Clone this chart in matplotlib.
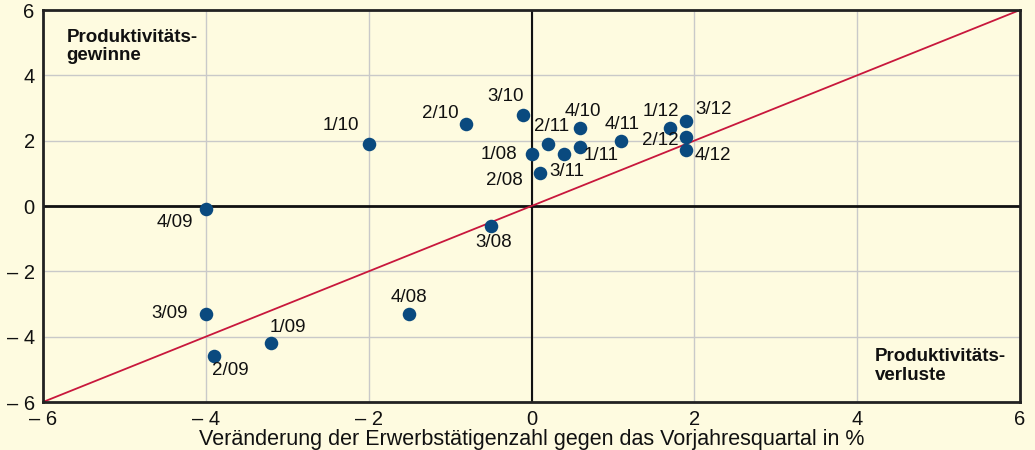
import matplotlib
matplotlib.use("Agg")
import matplotlib.pyplot as plt

# quarters (label), employment change x, productivity change y
labels = ["1/08", "2/08", "3/08", "4/08",
          "1/09", "2/09", "3/09", "4/09",
          "1/10", "2/10", "3/10", "4/10",
          "1/11", "2/11", "3/11", "4/11",
          "1/12", "2/12", "3/12", "4/12"]
x_vals = [0.0, 0.1, -0.5, -1.5,
          -3.2, -3.9, -4.0, -4.0,
          -2.0, -0.8, -0.1, 0.6,
          0.6, 0.2, 0.4, 1.1,
          1.7, 1.9, 1.9, 1.9]
y_vals = [1.6, 1.0, -0.6, -3.3,
          -4.2, -4.6, -3.3, -0.1,
          1.9, 2.5, 2.8, 2.4,
          1.8, 1.9, 1.6, 2.0,
          2.4, 2.1, 2.6, 1.7]
ticks = [-6, -4, -2, 0, 2, 4, 6]
tick_labels = ["\u2013 6", "\u2013 4", "\u2013 2", "0", "2", "4", "6"]

# label offsets in pixels (dx, dy)
offsets = {"1/08": (-33, -1), "2/08": (-35, -7), "3/08": (3, -17), "4/08": (0, 16),
           "1/09": (17, 16), "2/09": (16, -14), "3/09": (-36, 0), "4/09": (-31, -13),
           "1/10": (-28, 18), "2/10": (-26, 11), "3/10": (-18, 18), "4/10": (3, 16),
           "1/11": (21, -8), "2/11": (4, 17), "3/11": (3, -18), "4/11": (1, 16),
           "1/12": (-9, 16), "2/12": (-26, -3), "3/12": (27, 12), "4/12": (27, -5)}

BG = "#fefbe0"
plt.rcParams["font.family"] = ["Liberation Sans", "DejaVu Sans"]

fig = plt.figure(figsize=(10.35, 4.5), dpi=100, facecolor=BG)
ax = fig.add_axes([43/1035, 48/450, 977/1035, 392/450])
ax.set_facecolor(BG)

ax.set_xlim(-6, 6)
ax.set_ylim(-6, 6)
ax.set_xticks(ticks)
ax.set_yticks(ticks)
ax.set_xticklabels(tick_labels, fontsize=14.5)
ax.set_yticklabels(tick_labels, fontsize=14.5)
ax.tick_params(length=0, pad=6, colors="#111111")
ax.grid(True, color="#c9c9c9", linewidth=1)
ax.set_axisbelow(True)
for s in ax.spines.values():
    s.set_linewidth(2)
    s.set_color("#222222")

ax.axhline(0, color="#111111", linewidth=2, zorder=1)
ax.axvline(0, color="#111111", linewidth=1.5, zorder=1)
ax.plot([-6, 6], [-6, 6], color="#c8173c", linewidth=1.3, zorder=2)

ax.scatter(x_vals, y_vals, s=95, color="#0a4a7f", zorder=3, linewidths=0)
for lab, xv, yv in zip(labels, x_vals, y_vals):
    dx, dy = offsets[lab]
    ax.annotate(lab, (xv, yv), xytext=(dx, dy), textcoords="offset pixels",
                ha="center", va="center", fontsize=13.5, color="#111111", zorder=4)

ax.text(-5.71, 5.42, "Produktivitäts-\ngewinne", fontsize=13.5, fontweight="bold",
        ha="left", va="top", linespacing=1.1, color="#111111")
ax.text(4.22, -4.36, "Produktivitäts-\nverluste", fontsize=13.5, fontweight="bold",
        ha="left", va="top", linespacing=1.1, color="#111111")

ax.set_xlabel("Veränderung der Erwerbstätigenzahl gegen das Vorjahresquartal in %",
              fontsize=15.5, labelpad=0, color="#111111")

fig.savefig("out.png", dpi=100, facecolor=BG)
